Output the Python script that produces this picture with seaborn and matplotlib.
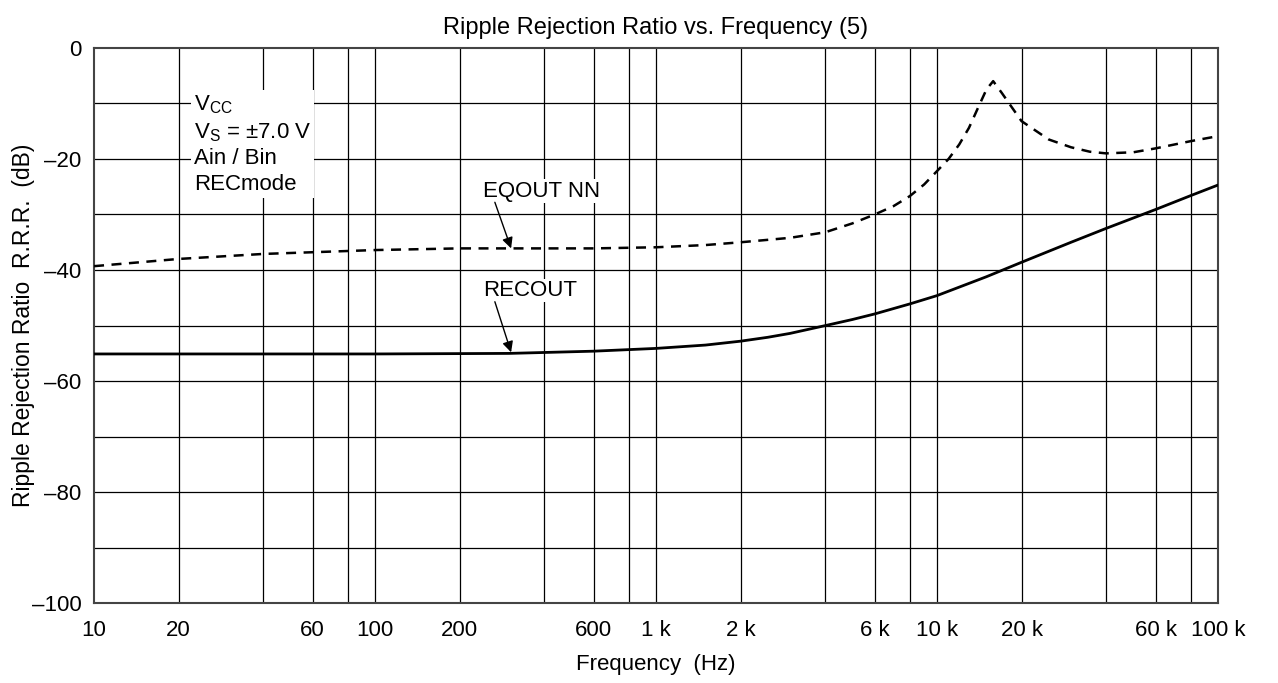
import numpy as np
import pandas as pd
import matplotlib
matplotlib.use("Agg")
import matplotlib.pyplot as plt
import seaborn as sns

# values (Hz, dB)
eq_freq = [10, 20, 40, 100, 200, 300, 600, 1000, 1500, 2000, 3000, 4000, 5000, 6000,
           7000, 8000, 9000, 10000, 11000, 12000, 13000, 14000, 15000, 15850, 17000,
           18000, 20000, 25000, 30000, 35000, 40000, 50000, 60000, 80000, 100000]
eq_rrr = [-39.3, -38.0, -37.1, -36.4, -36.1, -36.1, -36.1, -35.9, -35.5, -35.0, -34.2,
          -33.2, -31.6, -30.0, -28.5, -26.7, -24.6, -22.2, -20.0, -17.4, -14.4, -10.8,
          -7.5, -6.0, -8.1, -9.9, -13.2, -16.5, -17.9, -18.7, -19.0, -18.8, -18.1, -16.8, -15.9]

rec_freq = [10, 100, 300, 600, 1000, 1500, 2000, 2500, 3000, 4000, 5000, 6000, 8000, 10000,
            15000, 20000, 30000, 40000, 60000, 80000, 100000]
rec_rrr = [-55.1, -55.1, -55.0, -54.6, -54.1, -53.5, -52.8, -52.1, -51.4, -50.0, -48.9, -47.9,
           -46.1, -44.6, -41.2, -38.6, -35.0, -32.5, -29.1, -26.6, -24.7]

grid_freqs = [20, 40, 60, 80, 100, 200, 400, 600, 800, 1000, 2000, 4000, 6000, 8000,
              10000, 20000, 40000, 60000, 80000]
xtick_vals = [10, 20, 60, 100, 200, 600, 1000, 2000, 6000, 10000, 20000, 60000, 100000]
xtick_labels = ["10", "20", "60", "100", "200", "600", "1 k", "2 k", "6 k", "10 k", "20 k", "60 k", "100 k"]
ytick_vals = [0, -20, -40, -60, -80, -100]
ytick_labels = ["0", "–20", "–40", "–60", "–80", "–100"]

sns.set_style("white")
plt.rcParams['font.family'] = ['Liberation Sans', 'DejaVu Sans']
plt.rcParams['mathtext.fontset'] = 'custom'
plt.rcParams['mathtext.rm'] = 'Liberation Sans'
plt.rcParams['text.color'] = 'black'
plt.rcParams['axes.labelcolor'] = 'black'
plt.rcParams['xtick.color'] = 'black'
plt.rcParams['ytick.color'] = 'black'

fig, ax = plt.subplots(figsize=(12.78, 6.83), dpi=100)
fig.subplots_adjust(left=0.0736, right=0.953, top=0.930, bottom=0.1165)

eq_df = pd.DataFrame({"freq": eq_freq, "rrr": eq_rrr})
rec_df = pd.DataFrame({"freq": rec_freq, "rrr": rec_rrr})

ax.set_xscale("log")
ax.set_xlim(10, 100000)
ax.set_ylim(-100, 0)

# grid
for f in grid_freqs:
    ax.axvline(f, color="black", lw=0.9, zorder=1)
for yv in range(-90, 0, 10):
    ax.axhline(yv, color="black", lw=0.9, zorder=1)

sns.lineplot(data=eq_df, x="freq", y="rrr", ax=ax, color="black", lw=1.8,
             linestyle=(0, (4, 3)), zorder=3)
sns.lineplot(data=rec_df, x="freq", y="rrr", ax=ax, color="black", lw=2.0, zorder=3)

ax.set_xticks(xtick_vals)
ax.set_xticklabels(xtick_labels)
ax.xaxis.set_minor_locator(matplotlib.ticker.NullLocator())
ax.set_yticks(ytick_vals)
ax.set_yticklabels(ytick_labels)
ax.tick_params(axis="both", length=0, labelsize=16, labelcolor="black")
ax.tick_params(axis="y", pad=9)
ax.tick_params(axis="x", pad=12)

for s in ax.spines.values():
    s.set_color("#444444")
    s.set_linewidth(1.5)

ax.set_title("Ripple Rejection Ratio vs. Frequency (5)", fontsize=17, pad=10, color="black")
ax.set_xlabel("Frequency  (Hz)", fontsize=16, labelpad=9)
ax.set_ylabel("Ripple Rejection Ratio  R.R.R.  (dB)", fontsize=16.5, labelpad=-2)

# condition note
ax.text(22.7, -8.2, "V$_{\\mathregular{CC}}$\nV$_{\\mathregular{S}}$ = ±7.0 V\nAin / Bin\nRECmode",
        fontsize=16, va="top", ha="left", linespacing=1.3, zorder=4,
        bbox=dict(facecolor="white", edgecolor="none", pad=2))

# curve labels with arrows
ax.text(242, -25.8, "EQOUT NN", fontsize=16, va="center", ha="left", zorder=5,
        bbox=dict(facecolor="white", edgecolor="none", pad=1))
ax.text(242, -43.7, "RECOUT", fontsize=16, va="center", ha="left", zorder=5,
        bbox=dict(facecolor="white", edgecolor="none", pad=1))
ax.annotate("", xy=(305, -36.1), xytext=(267, -27.8), zorder=5,
            arrowprops=dict(arrowstyle="-|>", color="black", lw=1, mutation_scale=16,
                            shrinkA=0, shrinkB=0))
ax.annotate("", xy=(305, -54.8), xytext=(267, -45.7), zorder=5,
            arrowprops=dict(arrowstyle="-|>", color="black", lw=1, mutation_scale=16,
                            shrinkA=0, shrinkB=0))

fig.savefig("out.png", dpi=100)
